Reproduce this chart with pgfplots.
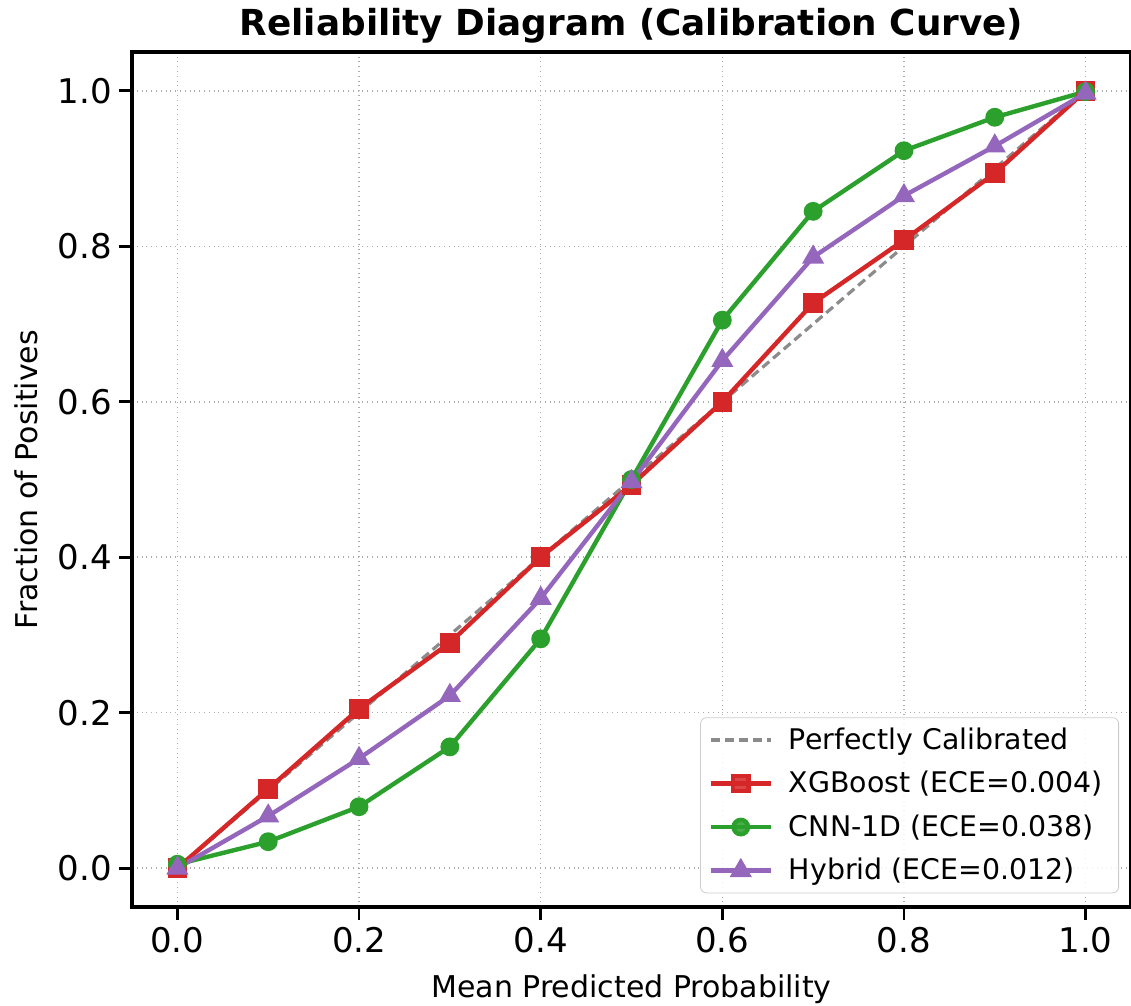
\documentclass[border=0pt]{standalone}
\usepackage{pgfplots}
\pgfplotsset{compat=1.18}
\usepackage{fontspec}
\setmainfont{DejaVu Sans}
\definecolor{tred}{HTML}{D62728}
\definecolor{tgreen}{HTML}{2CA02C}
\definecolor{tpurple}{HTML}{9467BD}
\definecolor{tgray}{HTML}{7F7F7F}
\begin{document}
\begin{tikzpicture}
\useasboundingbox (-66pt,-49.5pt) rectangle (499.5pt,453.5pt);
\begin{axis}[
  at={(0,0)}, anchor=south west,
  scale only axis, width=499.5pt, height=427.5pt,
  xmin=-0.05, xmax=1.05, ymin=-0.05, ymax=1.05,
  xtick={0,0.2,0.4,0.6,0.8,1.0}, ytick={0,0.2,0.4,0.6,0.8,1.0},
  xticklabel style={/pgf/number format/.cd, fixed, fixed zerofill, precision=1},
  yticklabel style={/pgf/number format/.cd, fixed, fixed zerofill, precision=1},
  /pgf/number format/assume math mode=true,
  tick label style={font=\fontsize{17}{20}\selectfont},
  tick align=outside, tick pos=left,
  major tick length=6.5pt,
  every tick/.style={black, line width=1.4pt},
  axis line style={line width=1.6pt},
  grid=major,
  grid style={dotted, line width=0.8pt, color=black!32},
  title={\bfseries Reliability Diagram (Calibration Curve)},
  title style={font=\fontsize{17.9}{21}\selectfont, yshift=-5pt},
  xlabel={Mean Predicted Probability},
  ylabel={Fraction of Positives},
  label style={font=\fontsize{15}{18}\selectfont},
  xlabel style={yshift=-4pt},
  ylabel style={yshift=3pt},
  legend style={at={(0.988,0.016)}, anchor=south east,
    font=\fontsize{14.2}{17}\selectfont,
    draw=black!20, rounded corners=3pt, fill=white, fill opacity=0.85, text opacity=1,
    row sep=5.5pt, column sep=4pt, inner xsep=4pt, inner ysep=3pt,
    nodes={inner xsep=4pt}},
  legend cell align=left,
  legend image code/.code={\draw[mark repeat=2, mark phase=2, #1] plot coordinates {(0pt,0pt) (15pt,0pt) (30pt,0pt)};},
]
\addplot[tgray, dash pattern=on 4.5pt off 2.5pt, line width=1.6pt, opacity=0.9] coordinates {(0,0) (1,1)};
\addlegendentry{Perfectly Calibrated}
\addplot[tred, line width=2.2pt, mark=square*, mark size=3.8pt, mark options={solid}] coordinates {
(0.0,0.000) (0.1,0.102) (0.2,0.205) (0.3,0.290) (0.4,0.400) (0.5,0.493)
(0.6,0.600) (0.7,0.727) (0.8,0.808) (0.9,0.894) (1.0,1.000)};
\addlegendentry{XGBoost (ECE=0.004)}
\addplot[tgreen, line width=2.2pt, mark=*, mark size=3.6pt] coordinates {
(0.0,0.005) (0.1,0.034) (0.2,0.079) (0.3,0.156) (0.4,0.295) (0.5,0.500)
(0.6,0.705) (0.7,0.845) (0.8,0.923) (0.9,0.966) (1.0,0.999)};
\addlegendentry{CNN-1D (ECE=0.038)}
\addplot[tpurple, line width=2.2pt, mark=triangle*, mark size=4.2pt] coordinates {
(0.0,0.000) (0.1,0.067) (0.2,0.141) (0.3,0.222) (0.4,0.347) (0.5,0.497)
(0.6,0.653) (0.7,0.786) (0.8,0.865) (0.9,0.929) (1.0,0.997)};
\addlegendentry{Hybrid (ECE=0.012)}
\end{axis}
\end{tikzpicture}
\end{document}
